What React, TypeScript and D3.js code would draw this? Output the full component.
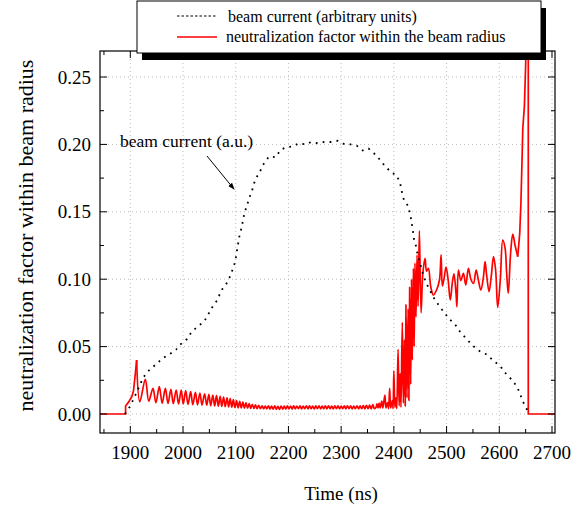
import React from "react";
import * as d3 from "d3";

// time axis (ns)
const xTicks = [1900, 2000, 2100, 2200, 2300, 2400, 2500, 2600, 2700];
const xMinor = [1850, 1950, 2050, 2150, 2250, 2350, 2450, 2550, 2650];
const yTicks = [0, 0.05, 0.1, 0.15, 0.2, 0.25];
const yMinor = [0.025, 0.075, 0.125, 0.175, 0.225];

// beam current, arbitrary units (dotted curve)
const beamCurrent: [number, number][] = [
  [1890, 0], [1900, 0.006], [1912, 0.016], [1924.7, 0.0272], [1936, 0.0326], [1950, 0.0373],
  [1961.5, 0.0415], [1973.4, 0.044], [1986.7, 0.0477], [1993, 0.051], [2007, 0.0554], [2016.5, 0.061],
  [2028, 0.065], [2040, 0.0685], [2048, 0.074], [2056, 0.0796], [2066, 0.085], [2072, 0.0915],
  [2081, 0.0957], [2088, 0.101], [2094, 0.107], [2099, 0.113], [2101.5, 0.119], [2104, 0.125],
  [2107, 0.132], [2111, 0.138], [2113.5, 0.143], [2116.5, 0.149], [2121.5, 0.155], [2126.5, 0.161],
  [2132, 0.167], [2137, 0.174], [2145, 0.179], [2152, 0.185], [2163, 0.191], [2176, 0.1905],
  [2185, 0.196], [2197, 0.198], [2209, 0.1985], [2219, 0.2008], [2232, 0.2], [2243.5, 0.2018],
  [2256, 0.2008], [2267.5, 0.2018], [2281, 0.2018], [2293.5, 0.2027], [2307, 0.2], [2318, 0.2],
  [2330, 0.199], [2341, 0.1955], [2352, 0.197], [2362.4, 0.1934], [2374, 0.1884], [2384, 0.1835],
  [2396, 0.179], [2405.5, 0.177], [2412, 0.171], [2415, 0.165], [2419, 0.159], [2427.5, 0.154],
  [2432, 0.146], [2436, 0.1365], [2438, 0.13], [2442, 0.1246], [2445, 0.1185], [2449.7, 0.112],
  [2455, 0.104], [2461, 0.0974], [2468.7, 0.0915], [2476, 0.086], [2484.5, 0.081], [2494, 0.076],
  [2505, 0.0705], [2516, 0.0665], [2525.6, 0.061], [2537, 0.056], [2548, 0.0514], [2559, 0.0475],
  [2568, 0.0455], [2577, 0.044], [2589, 0.0393], [2601.5, 0.0358], [2611.6, 0.0304], [2623, 0.0257],
  [2633.8, 0.0203], [2640, 0.0143], [2645, 0.0091], [2653, 0.003],
];

// neutralization factor, split into pieces of the trace
const neutOnset: [number, number][] = [
  [1842, 0], [1891, 0], [1891, 0.006], [1897, 0.009], [1903, 0.013], [1906, 0.017], [1909, 0.028],
];
const neutDecay: [number, number][] = [
  [1912, 0.04], [1918, 0.009], [1928.5, 0.0257], [1935, 0.0095], [1943, 0.019], [1948.5, 0.0084],
  [1955, 0.0203], [1960.5, 0.008], [1966.5, 0.019], [1971.5, 0.0078], [1977, 0.0183], [1981.5, 0.0077],
  [1987, 0.0178], [1991.5, 0.0075], [1996.5, 0.0178], [2000.5, 0.0074], [2005, 0.0173], [2009.5, 0.0072],
  [2014.5, 0.0166], [2018.5, 0.007], [2023.5, 0.016], [2027.5, 0.0068], [2032, 0.0155], [2036, 0.0066],
  [2041, 0.015], [2045, 0.0065], [2049, 0.0146], [2052.5, 0.0062], [2056.5, 0.0141], [2060, 0.006],
  [2063.5, 0.0136], [2067, 0.0058], [2070.5, 0.0131], [2073.5, 0.0056], [2077, 0.0126], [2080, 0.0054],
  [2083.5, 0.012], [2086.5, 0.0052], [2089.5, 0.0114], [2092.5, 0.005], [2095.5, 0.0107], [2098.5, 0.0048],
  [2101.5, 0.01], [2104.5, 0.0046], [2107.5, 0.0094], [2110.5, 0.0045], [2113.5, 0.0088], [2116.5, 0.0044],
  [2119.5, 0.0082], [2122.5, 0.0043], [2125.5, 0.0077], [2128.5, 0.0042], [2131.5, 0.0072], [2134.5, 0.0041],
  [2137.5, 0.0068], [2140.5, 0.004], [2143.5, 0.0065], [2146.5, 0.004],
];
const neutPlateau: [number, number][] = [
  [2150, 0.006], [2153, 0.0039], [2156, 0.0059], [2159, 0.0038], [2162, 0.0061], [2165, 0.0037],
  [2168, 0.0058], [2171, 0.0036], [2174, 0.006], [2177, 0.0035], [2180, 0.0057], [2183, 0.0034],
  [2186, 0.0059], [2189, 0.0036], [2192, 0.0058], [2195, 0.0037], [2198, 0.006], [2201, 0.0038],
  [2204, 0.0059], [2207, 0.0037], [2210, 0.0061], [2213, 0.0038], [2216, 0.0058], [2219, 0.0039],
  [2222, 0.006], [2225, 0.0038], [2228, 0.0059], [2231, 0.0039], [2234, 0.0061], [2237, 0.0038],
  [2240, 0.006], [2243, 0.0039], [2246, 0.0059], [2249, 0.0038], [2252, 0.006], [2255, 0.0039],
  [2258, 0.0061], [2261, 0.0038], [2264, 0.0059], [2267, 0.0039], [2270, 0.006], [2273, 0.0038],
  [2276, 0.0061], [2279, 0.0039], [2282, 0.0059], [2285, 0.0038], [2288, 0.006], [2291, 0.0039],
  [2294, 0.0061], [2297, 0.0038], [2300, 0.0059], [2303, 0.0039], [2306, 0.006], [2309, 0.0038],
  [2312, 0.0061], [2315, 0.0039], [2318, 0.006], [2321, 0.0038], [2324, 0.0059], [2327, 0.0039],
  [2330, 0.0061], [2333, 0.0038], [2336, 0.006], [2339, 0.0039], [2342, 0.0062], [2345, 0.0038],
  [2348, 0.0064], [2351, 0.0039], [2354, 0.0066], [2357, 0.0038], [2360, 0.007], [2363, 0.004],
];
const neutRise: [number, number][] = [
  [2366, 0.0048], [2368, 0.0075], [2370, 0.0045], [2372, 0.008], [2374, 0.0045], [2377, 0.0095],
  [2379, 0.0045], [2383, 0.014], [2385, 0.0045], [2388, 0.0085], [2390, 0.004], [2392, 0.019],
  [2394, 0.0045], [2397, 0.01], [2398.5, 0.004], [2400, 0.032], [2402, 0.005], [2404, 0.012],
  [2405.5, 0.004], [2408, 0.048], [2410, 0.006], [2412, 0.03], [2413.5, 0.005], [2416, 0.068],
  [2418, 0.008], [2420, 0.055], [2421.5, 0.006], [2423, 0.081], [2425, 0.012], [2427, 0.078],
  [2428.5, 0.01], [2430, 0.094], [2432, 0.022], [2433.5, 0.1], [2435, 0.04], [2437, 0.108],
  [2438.5, 0.05], [2440, 0.112], [2442, 0.072], [2444, 0.118], [2446, 0.08], [2448.4, 0.136],
];
const neutHigh: [number, number][] = [
  [2451.6, 0.075], [2455, 0.1044], [2459.2, 0.1155], [2462, 0.106], [2465.5, 0.108], [2470, 0.0944],
  [2475, 0.0883], [2481, 0.092], [2486.5, 0.0994], [2489.6, 0.118], [2492, 0.095], [2495, 0.1],
  [2499, 0.109], [2503, 0.0994], [2507, 0.0846], [2511, 0.0976], [2514, 0.104], [2518, 0.089],
  [2519.6, 0.0796], [2522.5, 0.1068], [2527, 0.099], [2532, 0.1044], [2536.4, 0.0957], [2541.4, 0.108],
  [2546, 0.1], [2551, 0.0969], [2556, 0.1068], [2560, 0.1], [2565, 0.092], [2570, 0.102],
  [2573, 0.113], [2576, 0.103], [2580.6, 0.0907], [2585, 0.103], [2589, 0.1167], [2593, 0.107],
  [2597, 0.079], [2602, 0.1], [2606.6, 0.129], [2611, 0.123], [2614, 0.1044], [2617, 0.0895],
  [2621.6, 0.12], [2625.6, 0.1335], [2630, 0.125], [2635, 0.1167],
];
const neutEnd: [number, number][] = [
  [2638.8, 0.134], [2641, 0.156], [2643, 0.186], [2644.6, 0.212], [2647.6, 0.228], [2650, 0.258],
  [2652, 0.3], [2655, 0.3], [2655, 0], [2710, 0],
];

const W = 581;
const H = 509;
const left = 100, right = 555, top = 51, bottom = 433;
const serif = "'Liberation Serif', 'Times New Roman', serif";

export default function App() {
  const x = d3.scaleLinear().domain([1842.5, 2705.7]).range([left, right]);
  const y = d3.scaleLinear().domain([-0.0141, 0.2693]).range([bottom, top]);

  const line = d3
    .line<[number, number]>()
    .x((d) => x(d[0]))
    .y((d) => y(d[1]));
  // oscillating middle of the red trace: centripetal spline rounds the wiggles
  const smooth = d3
    .line<[number, number]>()
    .x((d) => x(d[0]))
    .y((d) => y(d[1]))
    .curve(d3.curveCatmullRom.alpha(0.5));

  const wiggles = [...neutDecay, ...neutPlateau, ...neutRise, ...neutHigh];
  const head = [...neutOnset, neutDecay[0]];
  const tail = [neutHigh[neutHigh.length - 1], ...neutEnd];

  // annotation arrow, in data coordinates
  const arrowFrom: [number, number] = [2045.5, 0.1914];
  const arrowTo: [number, number] = [2097, 0.1667];

  const red = { fill: "none", stroke: "#ff0000", strokeWidth: 1.7, strokeLinejoin: "round" as const };

  return (
    <svg
      width={W}
      height={H}
      style={{ position: "absolute", left: 0, top: 0, background: "#fff" }}
      fontFamily={serif}
    >
      <defs>
        <clipPath id="plot">
          <rect x={left} y={top} width={right - left} height={bottom - top} />
        </clipPath>
        <marker id="head" viewBox="0 0 10 10" refX="9" refY="5" markerWidth="7" markerHeight="7" orient="auto">
          <path d="M0,1.5 L10,5 L0,8.5 Z" fill="#000" />
        </marker>
      </defs>

      {/* grid */}
      {xTicks.map((t) => (
        <line key={"gx" + t} x1={x(t)} x2={x(t)} y1={top} y2={bottom} stroke="#bbb" strokeWidth={1} strokeDasharray="1,3" />
      ))}
      {yTicks.map((t) => (
        <line key={"gy" + t} x1={left} x2={right} y1={y(t)} y2={y(t)} stroke="#bbb" strokeWidth={1} strokeDasharray="1,3" />
      ))}

      {/* traces */}
      <g clipPath="url(#plot)">
        <path d={line(head) ?? ""} {...red} />
        <path d={smooth(wiggles) ?? ""} {...red} />
        <path d={line(tail) ?? ""} {...red} />
        <path
          d={line(beamCurrent) ?? ""}
          fill="none"
          stroke="#000"
          strokeWidth={1.8}
          strokeDasharray="1.8,5.2"
        />
      </g>

      {/* frame + inward ticks on all sides */}
      <rect x={left} y={top} width={right - left} height={bottom - top} fill="none" stroke="#000" strokeWidth={1.2} />
      {xTicks.map((t) => (
        <g key={"tx" + t}>
          <line x1={x(t)} x2={x(t)} y1={bottom} y2={bottom - 7} stroke="#000" />
          <line x1={x(t)} x2={x(t)} y1={top} y2={top + 7} stroke="#000" />
          <text x={x(t)} y={459} fontSize={19} textAnchor="middle">{t}</text>
        </g>
      ))}
      {xMinor.map((t) => (
        <g key={"mx" + t}>
          <line x1={x(t)} x2={x(t)} y1={bottom} y2={bottom - 4} stroke="#000" />
          <line x1={x(t)} x2={x(t)} y1={top} y2={top + 4} stroke="#000" />
        </g>
      ))}
      {yTicks.map((t) => (
        <g key={"ty" + t}>
          <line x1={left} x2={left + 7} y1={y(t)} y2={y(t)} stroke="#000" />
          <line x1={right} x2={right - 7} y1={y(t)} y2={y(t)} stroke="#000" />
          <text x={91} y={y(t)} dy="0.35em" fontSize={19} textAnchor="end">{t.toFixed(2)}</text>
        </g>
      ))}
      {yMinor.map((t) => (
        <g key={"my" + t}>
          <line x1={left} x2={left + 4} y1={y(t)} y2={y(t)} stroke="#000" />
          <line x1={right} x2={right - 4} y1={y(t)} y2={y(t)} stroke="#000" />
        </g>
      ))}

      {/* axis titles */}
      <text x={341} y={500} fontSize={19} textAnchor="middle">Time (ns)</text>
      <text transform={`translate(33,${(58 + 413) / 2}) rotate(-90)`} fontSize={22} textAnchor="middle">
        neutralization factor within beam radius
      </text>

      {/* annotation */}
      <text x={120} y={147} fontSize={17.5}>beam current (a.u.)</text>
      <line
        x1={x(arrowFrom[0])}
        y1={y(arrowFrom[1])}
        x2={x(arrowTo[0])}
        y2={y(arrowTo[1])}
        stroke="#000"
        strokeWidth={1}
        markerEnd="url(#head)"
      />

      {/* legend */}
      <rect x={142} y={8} width={404} height={52} fill="#000" />
      <rect x={137} y={1} width={404} height={52} fill="#fff" stroke="#000" strokeWidth={1} />
      <line x1={177} x2={217} y1={16} y2={16} stroke="#000" strokeWidth={1.2} strokeDasharray="2.5,2" />
      <text x={228} y={21.5} fontSize={16}>beam current (arbitrary units)</text>
      <line x1={177} x2={217} y1={37} y2={37} stroke="#ff0000" strokeWidth={1.6} />
      <text x={226} y={42} fontSize={16}>neutralization factor within the beam radius</text>
    </svg>
  );
}
